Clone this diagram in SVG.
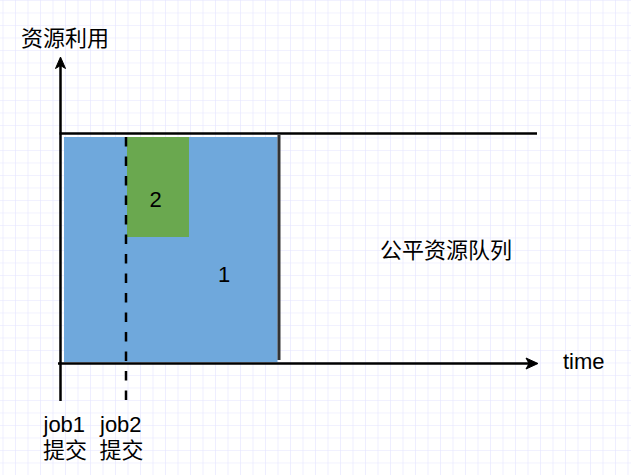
<svg xmlns="http://www.w3.org/2000/svg" width="631" height="475" viewBox="0 0 631 475">
  <defs>
    <pattern id="grid" patternUnits="userSpaceOnUse" x="2.5" y="0" width="12.5" height="12.5">
      <path d="M0 0 V12.5 M0 0 H12.5" fill="none" stroke="#e4e4ff" stroke-width="1.2"/>
    </pattern>
    <style>
      .t { font-family: "Liberation Sans", "Noto Sans CJK SC", sans-serif; font-size: 22px; fill: #000; }
      .axis { stroke: #000; stroke-width: 2.5; fill: none; }
      .head { fill: #000; stroke: #000; stroke-width: 1; stroke-linejoin: miter; }
    </style>
  </defs>
  <rect x="0" y="0" width="631" height="475" fill="#ffffff"/>
  <rect x="0" y="0" width="631" height="475" fill="url(#grid)"/>

  <g id="job1-block">
    <rect x="64" y="137" width="213.5" height="225" fill="#6fa8dc"/>
    <text class="t" x="224" y="282" text-anchor="middle">1</text>
  </g>
  <g id="job2-block">
    <rect x="127" y="137" width="62" height="100" fill="#6aa84f"/>
    <text class="t" x="155.5" y="207" text-anchor="middle">2</text>
  </g>
  <g id="queue-label">
    <text class="t" x="380" y="258">公平资源队列</text>
  </g>
  <g id="y-label">
    <text class="t" x="21" y="46">资源利用</text>
  </g>
  <g id="x-label">
    <text class="t" x="563" y="369">time</text>
  </g>
  <g id="job1-label">
    <text class="t" x="43.5" y="432">job1</text>
    <text class="t" x="43" y="458">提交</text>
  </g>
  <g id="job2-label">
    <text class="t" x="100" y="432">job2</text>
    <text class="t" x="99.5" y="458">提交</text>
  </g>

  <g id="connectors">
    <line class="axis" x1="60.5" y1="65" x2="60.5" y2="401"/>
    <path class="head" d="M60.5 57 L55.5 68.5 L60.5 65.5 L65.5 68.5 Z"/>
    <line class="axis" x1="58" y1="363.5" x2="530" y2="363.5"/>
    <path class="head" d="M538 363.5 L526 358 L529 363.5 L526 369 Z"/>
    <line class="axis" x1="59.5" y1="133.5" x2="537" y2="133.5"/>
    <line x1="279" y1="135" x2="279" y2="360" stroke="#333" stroke-width="3"/>
    <line x1="126" y1="137" x2="126" y2="402" stroke="#000" stroke-width="2.5" stroke-dasharray="9.5 10"/>
  </g>
</svg>
